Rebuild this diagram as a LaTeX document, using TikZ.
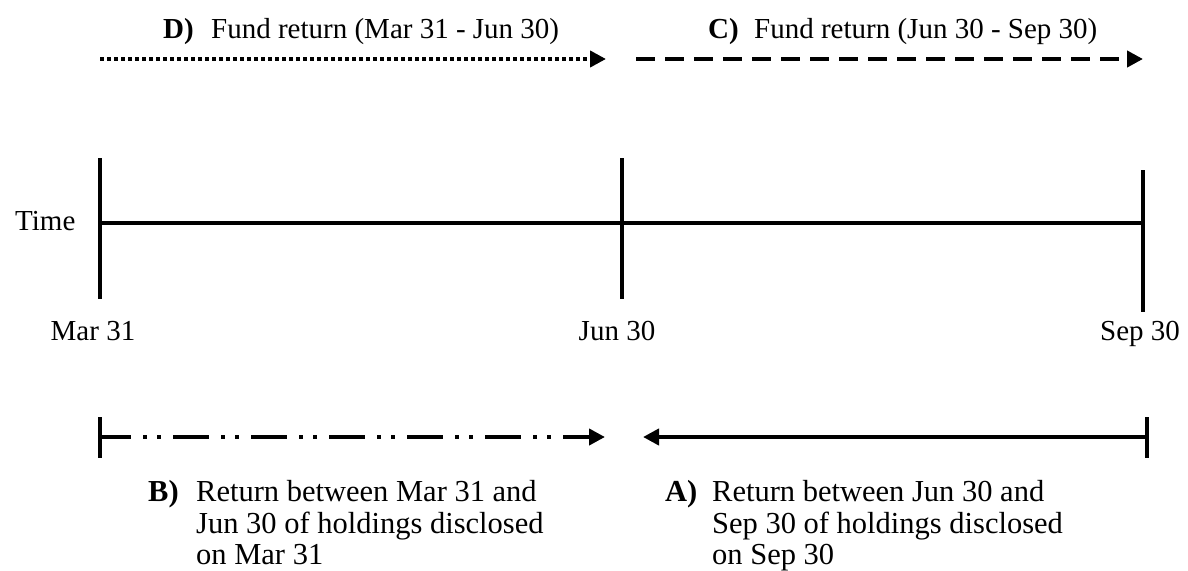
\documentclass[tikz,border=0pt]{standalone}
\usepackage{fontspec}
\setmainfont{Liberation Serif}
\usetikzlibrary{arrows.meta}
\begin{document}
\begin{tikzpicture}[x=1pt,y=-1pt,
  txt/.style={font=\fontsize{29}{33}\selectfont, inner sep=0pt, anchor=base west},
  btxt/.style={font=\fontsize{30.5}{33}\selectfont, inner sep=0pt, anchor=base west},
  ctxt/.style={font=\fontsize{29}{33}\selectfont, inner sep=0pt, anchor=base},
  bold/.style={font=\fontsize{29}{33}\selectfont\bfseries, inner sep=0pt, anchor=base west},
  bbold/.style={font=\fontsize{30.5}{33}\selectfont\bfseries, inner sep=0pt, anchor=base west},
  axis/.style={line width=4.3pt, line cap=butt},
  tip/.style={-{Triangle[length=16pt,width=16pt]}},
  dotline/.style={axis, tip, dash pattern=on 4pt off 3pt},
  dashline/.style={axis, tip, dash pattern=on 19pt off 10pt},
  dddline/.style={axis, tip, dash pattern=on 36pt off 12pt on 4pt off 10pt on 4pt off 12pt, dash phase=5pt},
  solidline/.style={axis, tip}
]
\useasboundingbox (0,0) rectangle (1188,570);
\fill[white] (0,0) rectangle (1188,570);

% timeline coordinates
\coordinate (m0) at (100,223);
\coordinate (m1) at (622,223);
\coordinate (m2) at (1143,223);
\coordinate (t0a) at (100,158); \coordinate (t0b) at (100,299);
\coordinate (t1a) at (622,158); \coordinate (t1b) at (622,299);
\coordinate (t2a) at (1143,170); \coordinate (t2b) at (1143,312);

\draw[axis] (m0) -- (m2);
\draw[axis] (t0a) -- (t0b);
\draw[axis] (t1a) -- (t1b);
\draw[axis] (t2a) -- (t2b);

\node[txt] (time) at (15,230) {Time};
\node[ctxt] (mar) at (93,340) {Mar 31};
\node[ctxt] (jun) at (617,340) {Jun 30};
\node[ctxt] (sep) at (1140,340) {Sep 30};

% top arrows
\coordinate (d0) at (100,59); \coordinate (d1) at (606,59);
\coordinate (c0) at (636,59); \coordinate (c1) at (1143,59);
\draw[dotline] (d0) -- (d1);
\draw[dashline] (c0) -- (c1);

\node[bold] (dlab) at (163,38) {D)};
\node[txt] (dtxt) at (211,38) {Fund return (Mar 31 - Jun 30)};
\node[bold] (clab) at (708,38) {C)};
\node[txt] (ctxt) at (754,38) {Fund return (Jun 30 - Sep 30)};

% bottom arrows
\coordinate (b0) at (100,437); \coordinate (b1) at (605,437);
\coordinate (bt0) at (100,417); \coordinate (bt1) at (100,458);
\coordinate (a0) at (1147,437); \coordinate (a1) at (643,437);
\coordinate (at0) at (1147,417); \coordinate (at1) at (1147,458);
\draw[axis] (bt0) -- (bt1);
\draw[dddline] (b0) -- (b1);
\draw[axis] (at0) -- (at1);
\draw[solidline] (a0) -- (a1);

\node[bbold] (blab) at (148,501) {B)};
\node[btxt] (b1l) at (196,501) {Return between Mar 31 and};
\node[btxt] (b2l) at (196,533) {Jun 30 of holdings disclosed};
\node[btxt] (b3l) at (196,564) {on Mar 31};

\node[bbold] (alab) at (665,501) {A)};
\node[btxt] (a1l) at (712,501) {Return between Jun 30 and};
\node[btxt] (a2l) at (712,533) {Sep 30 of holdings disclosed};
\node[btxt] (a3l) at (712,564) {on Sep 30};
\end{tikzpicture}
\end{document}
